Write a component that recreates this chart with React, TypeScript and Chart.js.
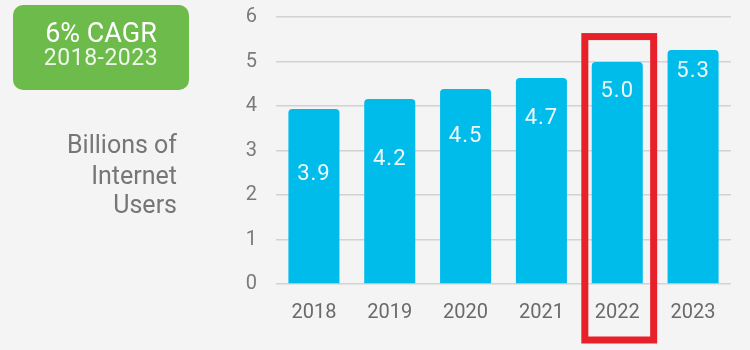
import React, { useEffect, useRef } from "react";
import { Chart, registerables } from "chart.js";

Chart.register(...registerables);

const years = ["2018", "2019", "2020", "2021", "2022", "2023"];
const usersBillions = [3.93, 4.16, 4.38, 4.63, 4.99, 5.26];
const valueLabels = ["3.9", "4.2", "4.5", "4.7", "5.0", "5.3"];
const labelAnchors = [2.45, 2.79, 3.31, 3.73, 4.32, 4.77];
const yTicks = [0, 1, 2, 3, 4, 5, 6];
const highlightIndex = 4;
const highlightTop = 5.56;
const badgeTitle = "6% CAGR";
const badgeSub = "2018-2023";
const axisTitleLines = ["Billions of", "Internet", "Users"];

const FONT = "Roboto, 'Liberation Sans', Arial, sans-serif";

const overlayPlugin = {
  id: "overlay",
  beforeDraw(chart: any) {
    const { ctx, width, height } = chart;
    ctx.save();
    ctx.fillStyle = "#f4f4f4";
    ctx.fillRect(0, 0, width, height);
    ctx.restore();
  },
  afterDatasetsDraw(chart: any) {
    const { ctx } = chart;
    const xs = chart.scales.x;
    const ys = chart.scales.y;
    const meta = chart.getDatasetMeta(0);
    ctx.save();
    // value labels
    ctx.fillStyle = "#eef8fc";
    ctx.font = `22px ${FONT}`;
    ctx.textAlign = "center";
    ctx.textBaseline = "middle";
    try { (ctx as any).letterSpacing = "1px"; } catch (e) {}
    meta.data.forEach((bar: any, i: number) => {
      ctx.fillText(valueLabels[i], bar.x, ys.getPixelForValue(labelAnchors[i]));
    });
    try { (ctx as any).letterSpacing = "0px"; } catch (e) {}

    // highlight rectangle
    const catW = xs.width / years.length;
    const cx = xs.getPixelForValue(highlightIndex);
    const left = cx - catW / 2 + 5.5;
    const right = cx + catW / 2 - 1.5;
    const top = ys.getPixelForValue(highlightTop);
    const bottom = chart.chartArea.bottom + 56;
    ctx.strokeStyle = "#e8202a";
    ctx.lineWidth = 7;
    ctx.strokeRect(left, top, right - left, bottom - top);

    // badge
    const bx = 13, by = 5, bw = 176, bh = 85, r = 10;
    ctx.fillStyle = "#6dbb4a";
    ctx.beginPath();
    ctx.moveTo(bx + r, by);
    ctx.arcTo(bx + bw, by, bx + bw, by + bh, r);
    ctx.arcTo(bx + bw, by + bh, bx, by + bh, r);
    ctx.arcTo(bx, by + bh, bx, by, r);
    ctx.arcTo(bx, by, bx + bw, by, r);
    ctx.closePath();
    ctx.fill();
    ctx.fillStyle = "#ffffff";
    ctx.textAlign = "center";
    ctx.textBaseline = "middle";
    ctx.font = `27px ${FONT}`;
    ctx.fillText(badgeTitle, bx + bw / 2, 35);
    ctx.fillStyle = "#eef7ea";
    ctx.font = `23px ${FONT}`;
    try { (ctx as any).letterSpacing = "0.5px"; } catch (e) {}
    ctx.fillText(badgeSub, bx + bw / 2, 59);
    try { (ctx as any).letterSpacing = "0px"; } catch (e) {}

    // axis title
    ctx.fillStyle = "#767676";
    ctx.font = `25px ${FONT}`;
    ctx.textAlign = "right";
    ctx.textBaseline = "alphabetic";
    const baselines = [153, 184, 213];
    axisTitleLines.forEach((t, i) => ctx.fillText(t, 177, baselines[i]));
    ctx.restore();
  },
};

export default function App() {
  const ref = useRef<HTMLCanvasElement>(null);
  useEffect(() => {
    document.body.style.margin = "0";
    document.body.style.background = "#f4f4f4";
    const chart = new Chart(ref.current as HTMLCanvasElement, {
      type: "bar",
      data: {
        labels: years,
        datasets: [
          {
            data: usersBillions,
            backgroundColor: "#00bceb",
            borderWidth: 0,
            borderRadius: { topLeft: 4, topRight: 4, bottomLeft: 0, bottomRight: 0 },
            borderSkipped: false,
            barPercentage: 0.673,
            categoryPercentage: 1,
          },
        ],
      },
      options: {
        animation: false,
        responsive: false,
        maintainAspectRatio: false,
        layout: { padding: { top: 17, right: 19, left: 0, bottom: 0 } },
        plugins: { legend: { display: false }, tooltip: { enabled: false } },
        scales: {
          x: {
            grid: { display: false, drawTicks: false },
            border: { display: false },
            ticks: {
              color: "#6a6a6a",
              font: { size: 20, family: FONT },
              padding: 17,
              maxRotation: 0,
            },
            afterFit: (s: any) => {
              s.height = 66;
              s.paddingLeft = 0;
              s.paddingRight = 0;
            },
          },
          y: {
            min: 0,
            max: 6,
            afterBuildTicks: (s: any) => {
              s.ticks = yTicks.map((v) => ({ value: v }));
            },
            grid: { color: "#d2d2d2", lineWidth: 1.5, drawTicks: false },
            border: { display: false },
            ticks: {
              color: "#7a7a7a",
              font: { size: 20, family: FONT },
              padding: 19,
            },
            afterFit: (s: any) => {
              s.width = 276;
              s.paddingTop = 0;
              s.paddingBottom = 0;
            },
          },
        },
      },
      plugins: [overlayPlugin],
    });
    return () => chart.destroy();
  }, []);
  return (
    <div style={{ width: 750, height: 350, background: "#f4f4f4" }}>
      <canvas ref={ref} width={750} height={350} style={{ display: "block" }} />
    </div>
  );
}
